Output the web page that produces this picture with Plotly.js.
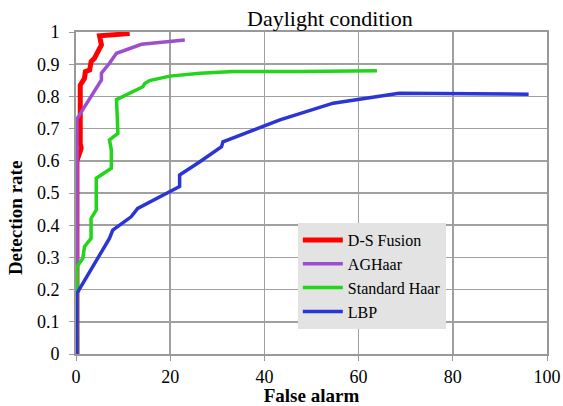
<!DOCTYPE html>
<html>
<head>
<meta charset="utf-8">
<script src="https://cdn.plot.ly/plotly-3.0.1.min.js"></script>
<style>html,body{margin:0;padding:0;background:#fff;}#chart{width:563px;height:406px;}</style>
</head>
<body>
<div id="chart"></div>
<script>
// D-S Fusion
const dsX = [0.2, 0.2, 0.9, 1.1, 0.9, 0.9, 1.8, 2.0, 2.9, 3.2, 3.9, 5.4, 5.0, 11.4];
const dsY = [0.0, 0.60, 0.63, 0.64, 0.654, 0.835, 0.856, 0.877, 0.882, 0.908, 0.918, 0.96, 0.988, 0.995];
// AGHaar
const agX = [0.3, 0.3, 0.2, 5.4, 5.4, 7.1, 8.6, 13.9, 23.1];
const agY = [0.0, 0.62, 0.73, 0.851, 0.872, 0.903, 0.934, 0.962, 0.975];
// Standard Haar
const shX = [0.3, 0.3, 0.2, 1.45, 1.8, 3.2, 3.2, 4.3, 4.3, 7.5, 7.5, 7.1, 8.9, 8.6, 14.2, 14.6, 15.6, 19.9, 26.3, 33.4, 47.6, 63.9];
const shY = [0.0, 0.2, 0.271, 0.297, 0.333, 0.359, 0.421, 0.447, 0.546, 0.577, 0.634, 0.665, 0.685, 0.79, 0.83, 0.84, 0.849, 0.863, 0.872, 0.877, 0.877, 0.88];
// LBP
const lbX = [0.2, 0.2, 7.1, 7.8, 11.7, 13.1, 22.0, 22.0, 26.3, 30.9, 31.2, 40.5, 43.3, 54.6, 68.6, 96.1];
const lbY = [0.0, 0.188, 0.359, 0.385, 0.426, 0.452, 0.52, 0.556, 0.597, 0.644, 0.659, 0.711, 0.727, 0.779, 0.81, 0.807];

const seriesNames = ["D-S Fusion", "AGHaar", "Standard Haar", "LBP"];
const xTicks = [0, 20, 40, 60, 80, 100];
const yTicks = [0, 0.1, 0.2, 0.3, 0.4, 0.5, 0.6, 0.7, 0.8, 0.9, 1];
const yTickText = ["0", "0.1", "0.2", "0.3", "0.4", "0.5", "0.6", "0.7", "0.8", "0.9", "1"];

const FAM = "Times New Roman";
const data = [
  {x: dsX, y: dsY, name: seriesNames[0], mode: "lines", line: {color: "#ff0000", width: 5}},
  {x: agX, y: agY, name: seriesNames[1], mode: "lines", line: {color: "#9b4fd0", width: 3.5}},
  {x: shX, y: shY, name: seriesNames[2], mode: "lines", line: {color: "#22d41a", width: 3.5}},
  {x: lbX, y: lbY, name: seriesNames[3], mode: "lines", line: {color: "#2b35d6", width: 3.5}}
];
const lay = {
  width: 563, height: 406,
  margin: {l: 76, r: 16, t: 32, b: 52},
  paper_bgcolor: "#ffffff", plot_bgcolor: "#ffffff",
  title: {text: "Daylight condition", x: 0.539, xref: "paper", xanchor: "center", y: 0.955, yref: "container", yanchor: "middle", font: {size: 22, family: FAM, color: "#000"}},
  xaxis: {range: [0, 100], tickvals: xTicks, ticktext: xTicks.map(String), showgrid: true, gridcolor: "#a0a0a0", gridwidth: 1.6,
    showline: true, linecolor: "#999", linewidth: 2, mirror: true, ticks: "outside", ticklen: 5, tickcolor: "#999", zeroline: false,
    tickfont: {size: 18, family: FAM, color: "#000"}, title: {text: "<b>False alarm</b>", font: {size: 19, family: FAM, color: "#000"}, standoff: 2}},
  yaxis: {range: [0, 1], tickvals: yTicks, ticktext: yTickText, showgrid: true, gridcolor: "#a0a0a0", gridwidth: 1.6,
    showline: true, linecolor: "#999", linewidth: 2, mirror: true, ticks: "outside", ticklen: 5, tickcolor: "#999", zeroline: false,
    ticklabelstandoff: 6, tickfont: {size: 18, family: FAM, color: "#000"}},
  annotations: [{text: "<b>Detection rate</b>", textangle: -90, xref: "paper", yref: "paper", x: 0, xshift: -61, y: 0.422,
    xanchor: "center", yanchor: "middle", showarrow: false, font: {size: 19, family: FAM, color: "#000"}}],
  legend: {x: 0.471, y: 0.242, xanchor: "left", yanchor: "middle", bgcolor: "#e3e3e3", font: {size: 16, family: FAM, color: "#000"}, itemwidth: 40, tracegroupgap: 0},
  showlegend: true
};
Plotly.newPlot("chart", data, lay, {displayModeBar: false, staticPlot: true});
</script>
</body>
</html>
